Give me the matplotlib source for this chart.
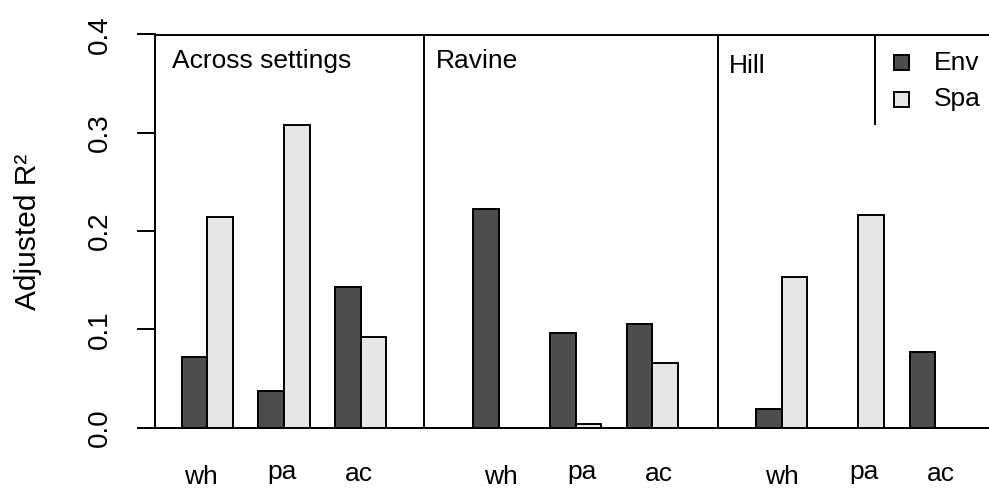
import matplotlib
matplotlib.use("Agg")
import matplotlib.pyplot as plt
import matplotlib.transforms as mtransforms
from matplotlib.textpath import TextPath
from matplotlib.font_manager import FontProperties
from matplotlib.patches import Rectangle
import numpy as np

# adjusted R2 of environment vs spatial fractions, per setting
settings = ["Across settings", "Ravine", "Hill"]
groups = ["wh", "pa", "ac"]
env = [[0.072, 0.037, 0.143],
       [0.222, 0.096, 0.106],
       [0.019, 0.000, 0.077]]
spa = [[0.214, 0.308, 0.092],
       [0.000, 0.004, 0.066],
       [0.153, 0.216, 0.000]]
legend_labels = ["Env", "Spa"]

env_col = "#4d4d4d"
spa_col = "#e6e6e6"
lw = 1.4

W, H = 989, 488
plt.rcParams["font.family"] = ["Liberation Sans", "DejaVu Sans"]
fig = plt.figure(figsize=(W / 100, H / 100), dpi=100)


def px(x, y):
    # pixel position -> figure fraction
    return x / W, 1 - y / H


# axes: one bar width = 25.6 px, x origin at the y axis
unit = 25.6
x0_px, top_px, bot_px, right_px = 155, 34.5, 427.7, 995
ax = fig.add_axes([x0_px / W, 1 - bot_px / H, (right_px - x0_px) / W, (bot_px - top_px) / H])
ax.set_xlim(0, (right_px - x0_px) / unit)
ax.set_ylim(0, 0.4)

panel_start = [1.04, 12.43, 23.48]
separators = [10.52, 22.0]
title_x = [0.645, 10.98, 22.42]
title_y = [0.3662, 0.3662, 0.3607]
label_x = [[1.785, 4.96, 7.95],
           [13.51, 16.68, 19.69],
           [24.49, 27.70, 30.68]]

for p in range(len(settings)):
    lefts = panel_start[p] + 3 * np.arange(len(groups))
    ax.bar(lefts, env[p], width=1, align="edge", color=env_col,
           edgecolor="black", linewidth=lw, zorder=3)
    ax.bar(lefts + 1, spa[p], width=1, align="edge", color=spa_col,
           edgecolor="black", linewidth=lw, zorder=3)
    ax.text(title_x[p], title_y[p], settings[p], fontsize=19,
            ha="left", va="baseline")

for s in separators:
    ax.axvline(s, color="black", linewidth=lw)

# spines: left axis plus full-width lines at 0 and 0.4
ax.spines["right"].set_visible(False)
for side in ["left", "top", "bottom"]:
    ax.spines[side].set_linewidth(lw)
ax.set_xticks([])
ax.set_yticks([0, 0.1, 0.2, 0.3, 0.4])
ax.set_yticklabels(["0.0", "0.1", "0.2", "0.3", "0.4"], rotation=90,
                   ha="center", va="center", fontsize=20)
ax.tick_params(axis="y", length=13, width=lw, pad=26.5)

# group labels under the bars, centred on their ink
fp = FontProperties(family="Liberation Sans", size=19)
blend = mtransforms.blended_transform_factory(ax.transData, fig.transFigure)
for p in range(len(settings)):
    for g, lab in enumerate(groups):
        ext = TextPath((0, 0), lab, size=19, prop=fp).get_extents()
        mid = (ext.y0 + ext.y1) / 2
        tr = mtransforms.offset_copy(blend, fig=fig, y=-mid, units="points")
        fig.text(label_x[p][g], 1 - 474.5 / H, lab, fontsize=19,
                 ha="center", va="baseline", transform=tr)

fig.text(*px(28, 231.5), "Adjusted R²", rotation=90, fontsize=21.5,
         ha="center", va="center")

# legend box with its left rule
fig.add_artist(plt.Line2D([875 / W, 875 / W], [1 - top_px / H, 1 - 124 / H],
                          color="black", linewidth=lw,
                          transform=fig.transFigure))
for i, (lab, col) in enumerate(zip(legend_labels, [env_col, spa_col])):
    yc = [62.5, 99][i]
    x, y = px(893.5, yc + 7.5)
    fig.add_artist(Rectangle((x, y), 15 / W, 15 / H, facecolor=col,
                             edgecolor="black", linewidth=lw,
                             transform=fig.transFigure))
    fig.text(*px(934, yc), lab, fontsize=19, ha="left", va="center")

fig.savefig("out.png", dpi=100)
